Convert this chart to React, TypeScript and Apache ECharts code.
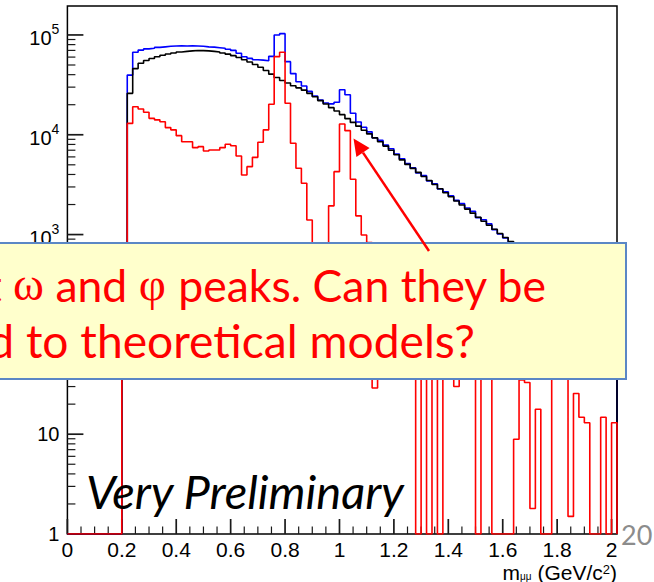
import React, { useEffect, useRef } from "react";
import * as echarts from "echarts";

// ---------------- data ----------------
const binStart = 0.2; // left edge of first listed bin (GeV/c^2)
const binWidth = 0.02;
const xRange = [0, 2.02];
const yRange = [1, 195000];

// counts per bin, bins 0.20, 0.22, ... 2.00 (91 bins); 0 = empty bin
const blueCounts = [
  300, 39600, 67000, 70500, 72500, 73500, 75000, 76000, 77000, 77500,
  78000, 77500, 78000, 77500, 77000, 76000, 75500, 74500, 73500, 72000,
  70000, 65500, 60500, 58300, 56400, 55900, 55200, 61000, 100000, 103000,
  54000, 41000, 34000, 30800, 27200, 24400, 22300, 20800, 20400, 21200,
  28200, 25200, 16400, 13400, 11900, 10700, 9330, 8800, 7880, 7250,
  6420, 5750, 5140, 4660, 4150, 3900, 3450, 3230, 2860, 2690,
  2440, 2200, 2040, 1845, 1710, 1480, 1410, 1280, 1120, 1015,
  925, 840, 784, 741, 674, 587, 548, 480, 435, 445,
  425, 372, 303, 300, 265, 241, 200, 185, 187, 150,
  155,
];

const blackCounts = [
  250, 26000, 46000, 52000, 55500, 58000, 60500, 62500, 64500, 66000,
  67500, 68500, 69300, 69800, 69700, 69200, 68500, 67500, 66000, 64200,
  62000, 59500, 56500, 53500, 50500, 47500, 44000, 40500, 37500, 35000,
  33000, 31000, 29500, 28000, 26000, 24000, 22000, 20300, 18700, 17300,
  15900, 14500, 13300, 12200, 11100, 10200, 9300, 8500, 7700, 7000,
  6300, 5600, 5050, 4600, 4200, 3820, 3480, 3170, 2880, 2620,
  2390, 2170, 1980, 1800, 1640, 1490, 1360, 1240, 1130, 1025,
  935, 850, 775, 705, 640, 585, 530, 485, 440, 400,
  365, 332, 302, 275, 250, 228, 207, 189, 172, 156,
  142,
];

const redCounts = [
  400, 13000, 19100, 18100, 16800, 14600, 14100, 13500, 11800, 11200,
  9800, 8500, 8500, 7430, 7600, 6880, 7040, 7040, 7430, 8040,
  7770, 6130, 3950, 4790, 5940, 8400, 11200, 20200, 60600, 67000,
  20700, 8220, 4620, 3270, 1400, 700, 420, 600, 1940, 4270,
  12800, 11000, 3580, 1540, 990, 830, 29, 300, 180, 250,
  120, 150, 90, 60, 0, 80, 0, 60, 0, 70,
  50, 30, 60, 45, 70, 0, 50, 40, 0, 0,
  0, 0, 8.9, 35, 33, 1.8, 17.8, 0, 0, 45,
  60, 40, 1.5, 25.6, 14.8, 13, 0, 0, 14.8, 0,
  13,
];

const xMajorTicks = [0, 0.2, 0.4, 0.6, 0.8, 1, 1.2, 1.4, 1.6, 1.8, 2];
const xTickLabels = ["0", "0.2", "0.4", "0.6", "0.8", "1", "1.2", "1.4", "1.6", "1.8", "2"];
const xMinorTicks = [
  0.05, 0.1, 0.15, 0.25, 0.3, 0.35, 0.45, 0.5, 0.55, 0.65, 0.7, 0.75,
  0.85, 0.9, 0.95, 1.05, 1.1, 1.15, 1.25, 1.3, 1.35, 1.45, 1.5, 1.55,
  1.65, 1.7, 1.75, 1.85, 1.9, 1.95,
];
const yMajorTicks = [1, 10, 100, 1000, 10000, 100000];
// labels visible in the picture (the 10^2 label is covered by the callout box)
const yTickExponents = [0, 1, -1, 3, 4, 5];
const yMinorTicks = [
  2, 3, 4, 5, 6, 7, 8, 9,
  20, 30, 40, 50, 60, 70, 80, 90,
  200, 300, 400, 500, 600, 700, 800, 900,
  2000, 3000, 4000, 5000, 6000, 7000, 8000, 9000,
  20000, 30000, 40000, 50000, 60000, 70000, 80000, 90000,
];

// ---------------- helpers ----------------
function histSteps(counts: number[]) {
  const floor = yRange[0];
  const pts: number[][] = [[xRange[0], floor], [binStart, floor]];
  counts.forEach((c, i) => {
    const lo = Math.round((binStart + i * binWidth) * 1000) / 1000;
    const hi = Math.round((lo + binWidth) * 1000) / 1000;
    const y = c > 0 ? c : floor;
    pts.push([lo, y], [hi, y]);
  });
  pts.push([pts[pts.length - 1][0], floor]);
  return pts;
}

const histSeries = (name: string, counts: number[], color: string, z: number) => ({
  type: "line",
  name,
  data: histSteps(counts),
  symbol: "none",
  showSymbol: false,
  lineStyle: { color, width: 1.6 },
  itemStyle: { color },
  silent: true,
  z,
});

const AXIS_FONT = "Liberation Sans";

const option: any = {
  animation: false,
  backgroundColor: "#ffffff",
  grid: {
    left: 67.4,
    right: 37,
    top: 6,
    bottom: 48,
    show: true,
    borderColor: "#000",
    borderWidth: 1.5,
    backgroundColor: "transparent",
    containLabel: false,
    outerBoundsMode: "none",
  },
  xAxis: {
    type: "value",
    min: xRange[0],
    max: xRange[1],
    interval: 0.2,
    axisLine: { show: false },
    axisTick: { show: false },
    splitLine: { show: false },
    axisLabel: {
      fontSize: 21,
      lineHeight: 20,
      fontFamily: AXIS_FONT,
      color: "#000",
      margin: 5,
      showMaxLabel: true,
      showMinLabel: true,
      formatter: (v: number) => {
        const i = xMajorTicks.findIndex((t) => Math.abs(t - v) < 1e-6);
        return i >= 0 ? xTickLabels[i] : "";
      },
    },
  },
  yAxis: {
    type: "log",
    logBase: 10,
    min: yRange[0],
    max: yRange[1],
    axisLine: { show: false },
    axisTick: { show: false },
    splitLine: { show: false },
    minorTick: { show: false },
    axisLabel: {
      fontSize: 20,
      fontFamily: AXIS_FONT,
      color: "#000",
      margin: 8,
      showMinLabel: true,
      formatter: (v: number) => {
        const i = yMajorTicks.findIndex((t) => Math.abs(v / t - 1) < 1e-6);
        if (i < 0) return "";
        const e = yTickExponents[i];
        if (e < 0) return "";
        if (e === 0) return "1";
        if (e === 1) return "10";
        return "{b|10}{s|" + e + "}";
      },
      rich: {
        b: { fontSize: 20, fontFamily: AXIS_FONT, color: "#000", lineHeight: 26, verticalAlign: "bottom" },
        s: { fontSize: 14, fontFamily: AXIS_FONT, color: "#000", lineHeight: 14, verticalAlign: "top" },
      },
    },
  },
  series: [
    {
      type: "custom",
      silent: true,
      z: 5,
      data: [
        ...xMajorTicks.map((v) => [v, yRange[0], 15, 1.7]),
        ...xMinorTicks.map((v) => [v, yRange[0], 7.5, 1.2]),
      ],
      renderItem: (_p: any, api: any) => {
        const p = api.coord([api.value(0), api.value(1)]);
        return {
          type: "line",
          shape: { x1: p[0], y1: p[1], x2: p[0], y2: p[1] - api.value(2) },
          style: { stroke: "#1a1a1a", lineWidth: api.value(3) },
        };
      },
    },
    {
      type: "custom",
      silent: true,
      z: 5,
      data: [
        ...yMajorTicks.map((v) => [xRange[0], v, 16, 1.7]),
        ...yMinorTicks.map((v) => [xRange[0], v, 8, 1.2]),
      ],
      renderItem: (_p: any, api: any) => {
        const p = api.coord([api.value(0), api.value(1)]);
        return {
          type: "line",
          shape: { x1: p[0], y1: p[1], x2: p[0] + api.value(2), y2: p[1] },
          style: { stroke: "#1a1a1a", lineWidth: api.value(3) },
        };
      },
    },
    histSeries("blue", blueCounts, "#0000ff", 6),
    histSeries("black", blackCounts, "#000000", 7),
    histSeries("red", redCounts, "#ff0000", 8),
  ],
  graphic: {
    elements: [
      {
        type: "rect",
        z: 100,
        shape: { x: -20, y: 243, width: 646, height: 136 },
        style: { fill: "#ffffcc", stroke: "#5b87c5", lineWidth: 2 },
      },
      {
        type: "text",
        z: 101,
        x: 546,
        y: 284,
        style: {
          text: "{t|at }{g|ω}{t| and }{g|φ}{t| peaks. Can they be}",
          align: "right",
          verticalAlign: "middle",
          rich: {
            t: { fontSize: 44.5, fontFamily: "Lato", fill: "#ff0000" },
            g: { fontSize: 47, fontFamily: "Liberation Serif", fill: "#ff0000" },
          },
        },
      },
      {
        type: "text",
        z: 101,
        x: 475,
        y: 340,
        style: {
          text: "compared to theoretical models?",
          align: "right",
          verticalAlign: "middle",
          fontSize: 46.2,
          fontFamily: "Lato",
          fill: "#ff0000",
        },
      },
      {
        type: "line",
        z: 102,
        shape: { x1: 429, y1: 251, x2: 363, y2: 152.6 },
        style: { stroke: "#ff0000", lineWidth: 2.5 },
      },
      {
        type: "polygon",
        z: 102,
        shape: { points: [[353.5, 138.5], [369.6, 148.1], [356.4, 157.1]] },
        style: { fill: "#ff0000" },
      },
      {
        type: "text",
        z: 101,
        x: 86,
        y: 491,
        style: {
          text: "Very Preliminary",
          align: "left",
          verticalAlign: "middle",
          fontSize: 47,
          fontStyle: "italic",
          fontFamily: "Lato",
          fill: "#000",
        },
      },
      {
        type: "text",
        z: 101,
        x: 621,
        y: 534,
        style: {
          text: "20",
          align: "left",
          verticalAlign: "middle",
          fontSize: 27,
          fontFamily: "Lato",
          fill: "#8c8c8c",
        },
      },
      {
        type: "text",
        z: 101,
        x: 617,
        y: 572,
        style: {
          text: "{n|m}{sub|μμ}{n| (GeV/c}{sup|2}{n|)}",
          align: "right",
          verticalAlign: "middle",
          rich: {
            n: { fontSize: 21, fontFamily: AXIS_FONT, fill: "#000", lineHeight: 18, verticalAlign: "middle" },
            sub: { fontSize: 10, fontFamily: AXIS_FONT, fill: "#000", lineHeight: 10, verticalAlign: "bottom" },
            sup: { fontSize: 13, fontFamily: AXIS_FONT, fill: "#000", lineHeight: 13, verticalAlign: "top" },
          },
        },
      },
    ],
  },
};

export default function App() {
  const ref = useRef<HTMLDivElement>(null);
  useEffect(() => {
    document.body.style.margin = "0";
    const chart = echarts.init(ref.current!, undefined, { renderer: "svg" });
    chart.setOption(option);
    return () => chart.dispose();
  }, []);
  return (
    <div
      ref={ref}
      style={{ width: 654, height: 582, position: "absolute", left: 0, top: 0, background: "#fff" }}
    />
  );
}
